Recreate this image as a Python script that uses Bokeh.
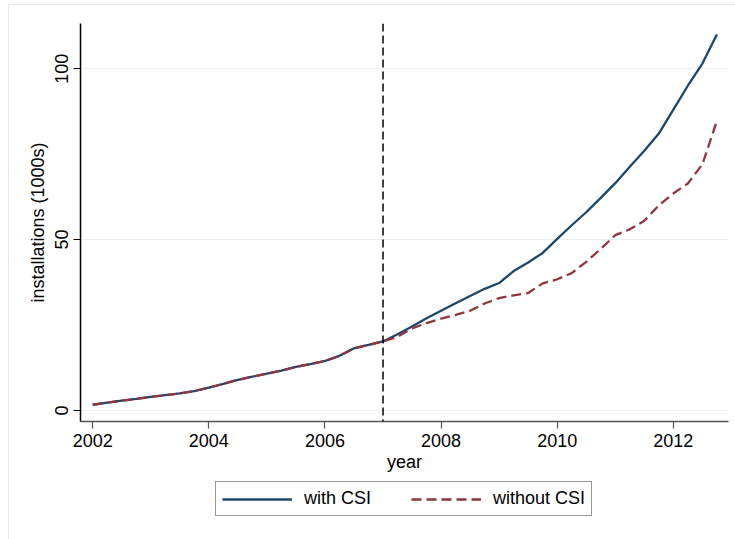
from bokeh.plotting import figure
from bokeh.layouts import column
from bokeh.models import Range1d, Span, Legend, LegendItem, FixedTicker
from bokeh.embed import file_html
from bokeh.resources import INLINE

# quarterly observations
years = [2002 + 0.25 * i for i in range(44)]
common = [1.7, 2.3, 2.9, 3.4, 4.0, 4.5, 5.0, 5.7, 6.7, 7.8, 9.0, 9.9, 10.8, 11.7,
          12.8, 13.6, 14.5, 16.0, 18.2, 19.2, 20.2]
with_csi_after = [22.3, 24.6, 27.0, 29.2, 31.4, 33.5, 35.6, 37.3, 40.8, 43.3, 46.1,
                  50.2, 54.2, 58.0, 62.2, 66.5, 71.3, 76.0, 81.0, 88.0, 95.0, 101.5, 110.0]
without_csi_after = [21.6, 24.0, 25.6, 26.9, 28.0, 29.2, 31.3, 32.9, 33.7, 34.4, 37.2,
                     38.4, 40.2, 43.5, 47.3, 51.3, 53.0, 55.5, 60.0, 63.5, 66.4, 72.0, 84.7]
with_csi = common + with_csi_after
without_csi = common + without_csi_after
treatment_year = 2007
x_ticks = [2002, 2004, 2006, 2008, 2010, 2012]
y_ticks = [0, 50, 100]
series_labels = ["with CSI", "without CSI"]

FONT = "Liberation Sans"
NAVY = "#1a476f"
MAROON = "#90353b"
FRAME = "1px solid #e3ebee"
DASH = "10 5"

p = figure(width=727, height=476, output_backend="svg", toolbar_location=None,
           x_range=Range1d(2001.79, 2012.95), y_range=Range1d(-3.2, 113.2),
           min_border_left=71, min_border_right=8, min_border_top=18,
           min_border_bottom=60)
p.margin = (4, 0, 0, 8)
p.styles = {"border-left": FRAME, "border-top": FRAME}
p.outline_line_color = None
p.background_fill_color = "white"
p.border_fill_color = "white"

p.xgrid.visible = False
p.ygrid.grid_line_color = "#e8f0f2"
p.ygrid.grid_line_width = 1.2
p.ygrid.ticker = FixedTicker(ticks=y_ticks)

p.line(years, with_csi, line_color=NAVY, line_width=2.3)
p.line(years, without_csi, line_color=MAROON, line_width=2.3, line_dash=DASH)

p.add_layout(Span(location=treatment_year, dimension="height", line_color="black",
                  line_width=1.5, line_dash="8 4"))

for ax in (p.xaxis[0], p.yaxis[0]):
    ax.major_label_text_font = FONT
    ax.major_label_text_font_size = "18px"
    ax.major_label_text_color = "black"
    ax.axis_label_text_font = FONT
    ax.axis_label_text_font_size = "18px"
    ax.axis_label_text_font_style = "normal"
    ax.axis_label_text_color = "black"
    ax.minor_tick_line_color = None
    ax.major_tick_out = 7
    ax.major_tick_in = 0
    ax.major_label_standoff = 5

p.xaxis.ticker = FixedTicker(ticks=x_ticks)
p.xaxis.axis_label = "year"
p.xaxis.axis_label_standoff = 2
p.xaxis.axis_line_color = "#555555"
p.xaxis.axis_line_width = 1.5
p.xaxis.major_tick_line_color = "#555555"
p.xaxis.major_tick_line_width = 1.2

p.yaxis.ticker = FixedTicker(ticks=y_ticks)
p.yaxis.axis_label = "installations (1000s)"
p.yaxis.axis_label_standoff = 5
p.yaxis.major_label_orientation = "vertical"
p.yaxis.axis_line_color = "black"
p.yaxis.axis_line_width = 1.5
p.yaxis.major_tick_line_color = "black"
p.yaxis.major_tick_line_width = 1.2

# legend strip below the plot (its renderers hold the series, out of view)
lg = figure(width=727, height=59, output_backend="svg", toolbar_location=None,
            x_range=Range1d(0, 1), y_range=Range1d(-1, 0),
            x_axis_type=None, y_axis_type=None,
            min_border_left=0, min_border_right=0, min_border_top=0,
            min_border_bottom=0)
lg.margin = (0, 0, 0, 8)
lg.styles = {"border-left": FRAME}
lg.grid.visible = False
lg.outline_line_color = None
lg.border_fill_color = "white"
lg.background_fill_color = "white"
k1 = lg.line(years, with_csi, line_color=NAVY, line_width=2.3)
k2 = lg.line(years, without_csi, line_color=MAROON, line_width=2.3, line_dash=DASH)

legend = Legend(items=[LegendItem(label=series_labels[0], renderers=[k1]),
                       LegendItem(label=series_labels[1], renderers=[k2])],
                orientation="horizontal", location=(135, 23),
                label_text_font=FONT, label_text_font_size="18px",
                label_text_color="black", glyph_width=70, glyph_height=18,
                label_height=18, label_standoff=12, spacing=40, padding=6,
                margin=0, border_line_color="#333333", border_line_width=1,
                background_fill_color="white")
lg.add_layout(legend, "center")

page = column(p, lg, spacing=0)
open("out.html", "w").write(file_html(page, INLINE))
